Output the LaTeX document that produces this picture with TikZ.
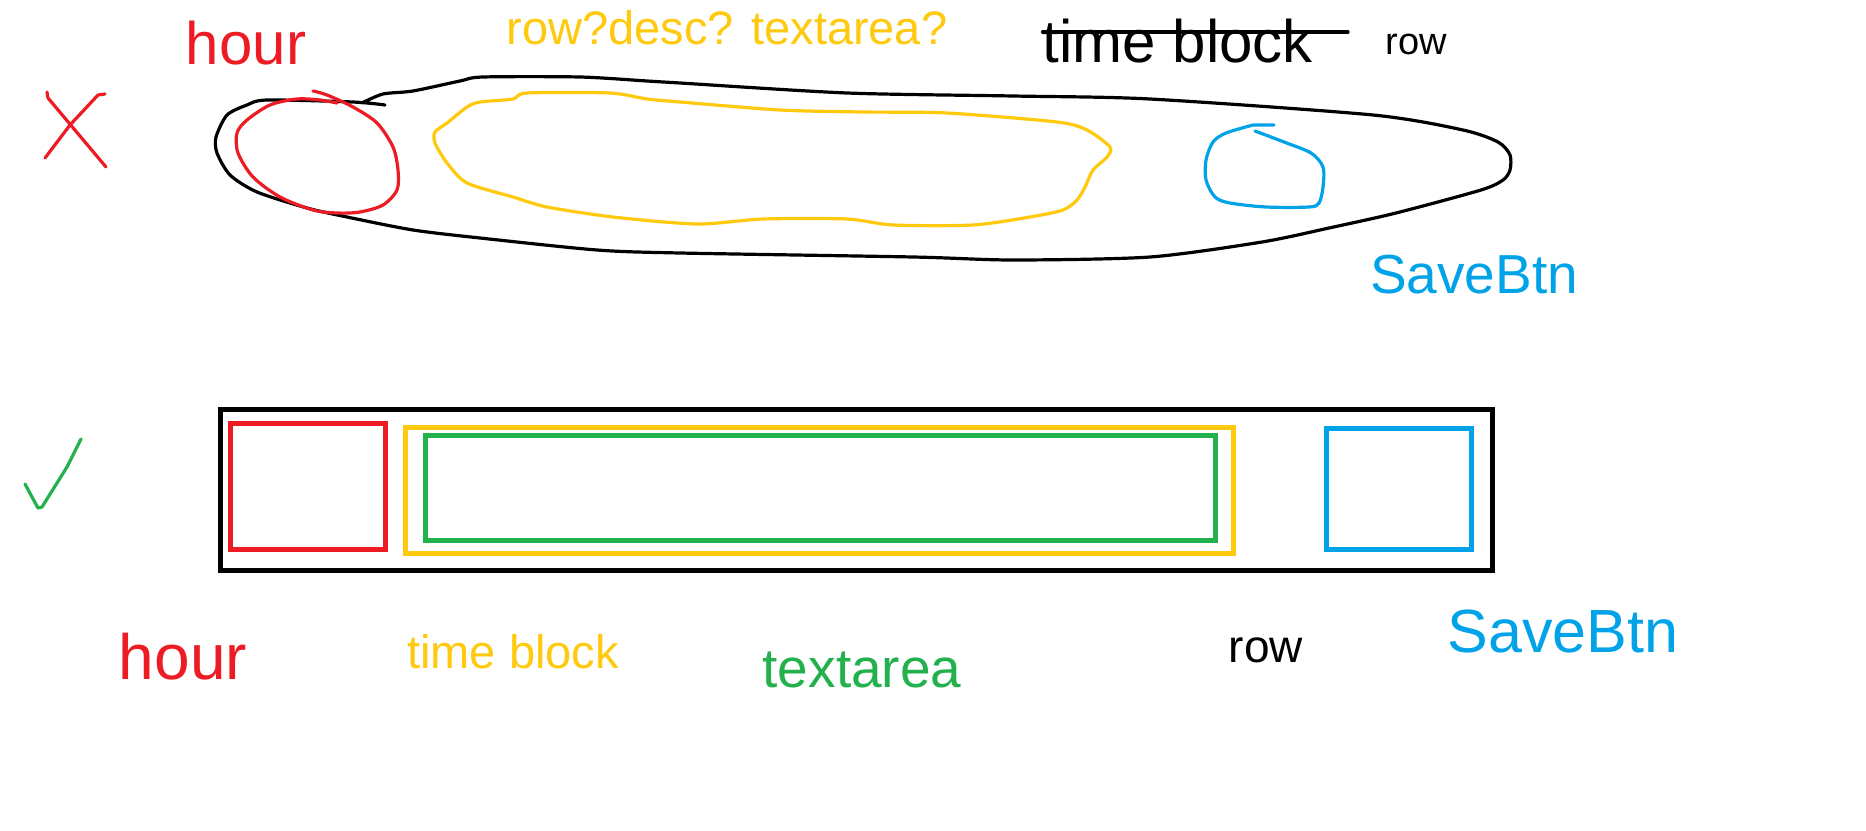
\documentclass[tikz,border=0pt]{standalone}
\usepackage{fontspec}
\setmainfont{Liberation Sans}
\definecolor{paintred}{HTML}{ED1C24}
\definecolor{paintgold}{HTML}{FFC90E}
\definecolor{paintgreen}{HTML}{22B14C}
\definecolor{paintblue}{HTML}{00A2E8}
\newcommand{\handsize}[1]{\fontsize{#1}{#1}\selectfont}
\tikzset{
  pen/.style={line width=1.6pt, line cap=round, line join=round},
  box/.style={line width=2.5pt},
  lbl/.style={inner sep=0pt},
}
\begin{document}
\begin{tikzpicture}[x=0.5pt, y=-0.5pt]
  \useasboundingbox (0,0) rectangle (1866,830);
  \fill [white] (0,0) rectangle (1866,830);
  % wrong version
  \draw [pen, paintred] (47,92) -- (48,98) -- (106,167);
  \draw [pen, paintred] (45,158) -- (70,125) -- (98,95) -- (105,94);
  \node [lbl, paintred, font=\handsize{30}] (tophour) at (246,43) {hour};
  \node [lbl, paintgold, font=\handsize{23.5}] (topguess) at (727,28) {row?desc? textarea?};
  \node [lbl, font=\handsize{30}] (toptimeblock) at (1178,41) {time block};
  \coordinate (strikeend) at (1348,32);
  \draw [pen] (toptimeblock.west |- strikeend) -- (strikeend);
  \node [lbl, font=\handsize{19}] (toprow) at (1416,44) {row};
  \node [lbl, paintblue, font=\handsize{27.5}] (topsave) at (1474,275) {SaveBtn};
  \draw [pen] plot [smooth, tension=0.45] coordinates {
    (362,103) (383,94) (413,91) (460,81) (483,77) (580,77) (647,81)
    (680,83) (847,93) (1013,96) (1150,99) (1373,115) (1463,130)
    (1498,142) (1510,155) (1510,170) (1503,180) (1481,190) (1396,213)
    (1329,228) (1262,242) (1150,257) (1013,260) (913,257) (680,253)
    (597,250) (480,238) (413,230) (347,217) (307,208) (257,192)
    (230,175) (217,153) (216,137) (227,115) (247,105) (267,100)
    (353,102) (385,105)};
  \draw [pen, paintred] plot [smooth, tension=0.5] coordinates {
    (313,91) (327,95) (353,107) (377,123) (393,147) (398,170) (397,190)
    (383,205) (360,212) (337,213) (313,210) (280,197) (253,177) (238,153)
    (237,133) (247,120) (270,105) (297,99) (320,100) (337,103)};
  \draw [pen, paintgold] plot [smooth cycle, tension=0.45] coordinates {
    (527,93) (610,93) (647,99) (680,102) (780,110) (863,112) (947,113)
    (1057,122) (1087,130) (1110,147) (1107,157) (1093,170) (1085,187)
    (1077,200) (1063,210) (1030,217) (973,225) (893,225) (847,219)
    (763,219) (697,224) (613,217) (547,207) (513,197) (467,183)
    (447,163) (435,143) (435,132) (447,123) (467,107) (480,102) (513,99)};
  \draw [pen, paintblue] plot [smooth, tension=0.5] coordinates {
    (1255,131) (1284,142) (1311,153) (1323,167) (1323,187) (1319,203)
    (1309,207) (1266,207) (1230,203) (1215,197) (1206,180) (1206,160)
    (1213,142) (1226,133) (1253,125)} -- (1274,125);
  % right version
  \draw [pen, paintgreen] (25,484) -- (38,508) -- (42,507) -- (67,467) -- (81,439);
  \draw [box] (220.5,409.5) rectangle (1492.5,570);
  \draw [box, paintred] (230.5,423.5) rectangle (385.5,549);
  \draw [box, paintgold] (405.5,427.5) rectangle (1233,553);
  \draw [box, paintgreen] (425.5,435.5) rectangle (1215.5,540.5);
  \draw [box, paintblue] (1326.5,428.5) rectangle (1471.5,549);
  \node [lbl, paintred, font=\handsize{32}] (hourlbl) at (183,657) {hour};
  \node [lbl, paintgold, font=\handsize{23.5}] (blocklbl) at (513,652) {time block};
  \node [lbl, paintgreen, font=\handsize{27.5}] (textlbl) at (862,670) {textarea};
  \node [lbl, font=\handsize{23}] (rowlbl) at (1266,650) {row};
  \node [lbl, paintblue, font=\handsize{30.5}] (savelbl) at (1563,631) {SaveBtn};
\end{tikzpicture}
\end{document}
